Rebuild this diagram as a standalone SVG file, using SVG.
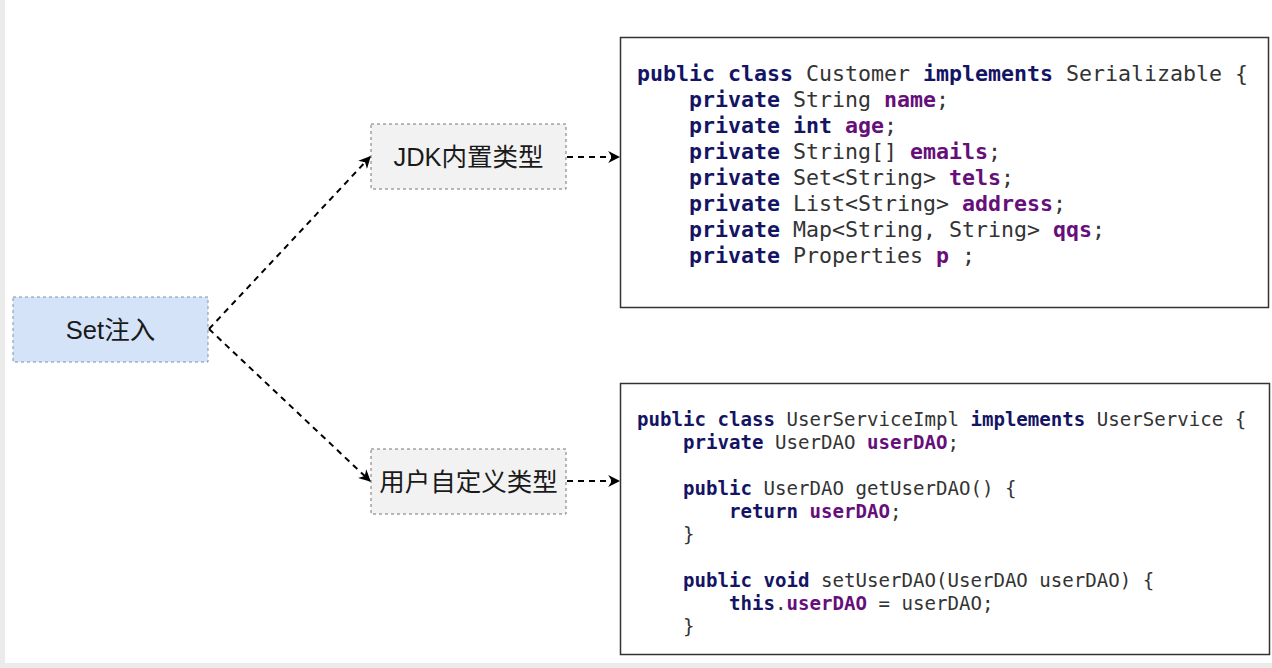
<svg xmlns="http://www.w3.org/2000/svg" width="1272" height="668" viewBox="0 0 1272 668">
<defs>
<marker id="arr" viewBox="0 0 10 10" refX="9" refY="5" markerWidth="12" markerHeight="12" markerUnits="userSpaceOnUse" orient="auto">
<path d="M0,0 L10,5 L0,10 L3,5 Z" fill="#000"/>
</marker>
<style>
.node{stroke-width:1;stroke-dasharray:3 3}
.lbl{font-family:"Liberation Sans","Noto Sans CJK SC",sans-serif;font-size:25.5px;fill:#1a1a1a;text-anchor:middle;dominant-baseline:central}
.conn{fill:none;stroke:#000;stroke-width:2;stroke-dasharray:6 5}
.code{font-family:"DejaVu Sans Mono","Liberation Mono",monospace;fill:#333;white-space:pre}
.k{fill:#141464;font-weight:bold}
.f{fill:#660e7a;font-weight:bold}
.box{fill:#fff;stroke:#333;stroke-width:1.5}
</style>
</defs>
<rect x="0" y="0" width="1272" height="668" fill="#fff"/>
<rect x="0" y="0" width="5" height="668" fill="#ebebeb"/>
<rect x="0" y="663" width="1272" height="5" fill="#ebebeb"/>

<g id="set">
<rect class="node" x="13" y="297" width="195" height="65" fill="#d4e3f7" stroke="#7f93ad"/>
<text class="lbl" x="110.5" y="330">Set注入</text>
</g>
<g id="jdk">
<rect class="node" x="371" y="124" width="195" height="65" fill="#f2f2f2" stroke="#777"/>
<text class="lbl" x="468.5" y="157">JDK内置类型</text>
</g>
<g id="user">
<rect class="node" x="371" y="449" width="195" height="65" fill="#f2f2f2" stroke="#777"/>
<text class="lbl" x="468.5" y="482">用户自定义类型</text>
</g>

<g id="customer">
<rect class="box" x="620.5" y="37.5" width="648" height="270"/>
<text class="code" font-size="21.6">
<tspan x="637" y="81"><tspan class="k">public class</tspan> Customer <tspan class="k">implements</tspan> Serializable {</tspan>
<tspan x="689" y="107"><tspan class="k">private</tspan> String <tspan class="f">name</tspan>;</tspan>
<tspan x="689" y="133"><tspan class="k">private int</tspan> <tspan class="f">age</tspan>;</tspan>
<tspan x="689" y="159"><tspan class="k">private</tspan> String[] <tspan class="f">emails</tspan>;</tspan>
<tspan x="689" y="185"><tspan class="k">private</tspan> Set&lt;String&gt; <tspan class="f">tels</tspan>;</tspan>
<tspan x="689" y="211"><tspan class="k">private</tspan> List&lt;String&gt; <tspan class="f">address</tspan>;</tspan>
<tspan x="689" y="237"><tspan class="k">private</tspan> Map&lt;String, String&gt; <tspan class="f">qqs</tspan>;</tspan>
<tspan x="689" y="263"><tspan class="k">private</tspan> Properties <tspan class="f">p</tspan> ;</tspan>
</text>
</g>

<g id="userservice">
<rect class="box" x="620.5" y="383.5" width="649" height="271"/>
<text class="code" font-size="19.1">
<tspan x="637" y="426"><tspan class="k">public class</tspan> UserServiceImpl <tspan class="k">implements</tspan> UserService {</tspan>
<tspan x="683" y="449"><tspan class="k">private</tspan> UserDAO <tspan class="f">userDAO</tspan>;</tspan>
<tspan x="683" y="495"><tspan class="k">public</tspan> UserDAO getUserDAO() {</tspan>
<tspan x="729" y="518"><tspan class="k">return</tspan> <tspan class="f">userDAO</tspan>;</tspan>
<tspan x="683" y="541">}</tspan>
<tspan x="683" y="587"><tspan class="k">public void</tspan> setUserDAO(UserDAO userDAO) {</tspan>
<tspan x="729" y="610"><tspan class="k">this</tspan>.<tspan class="f">userDAO</tspan> = userDAO;</tspan>
<tspan x="683" y="633">}</tspan>
</text>
</g>

<g id="connectors">
<path class="conn" d="M209,329 L370,157" marker-end="url(#arr)"/>
<path class="conn" d="M209,329 L370,481" marker-end="url(#arr)"/>
<path class="conn" d="M567,157 L619,157" marker-end="url(#arr)"/>
<path class="conn" d="M567,481 L619,481" marker-end="url(#arr)"/>
</g>
</svg>
